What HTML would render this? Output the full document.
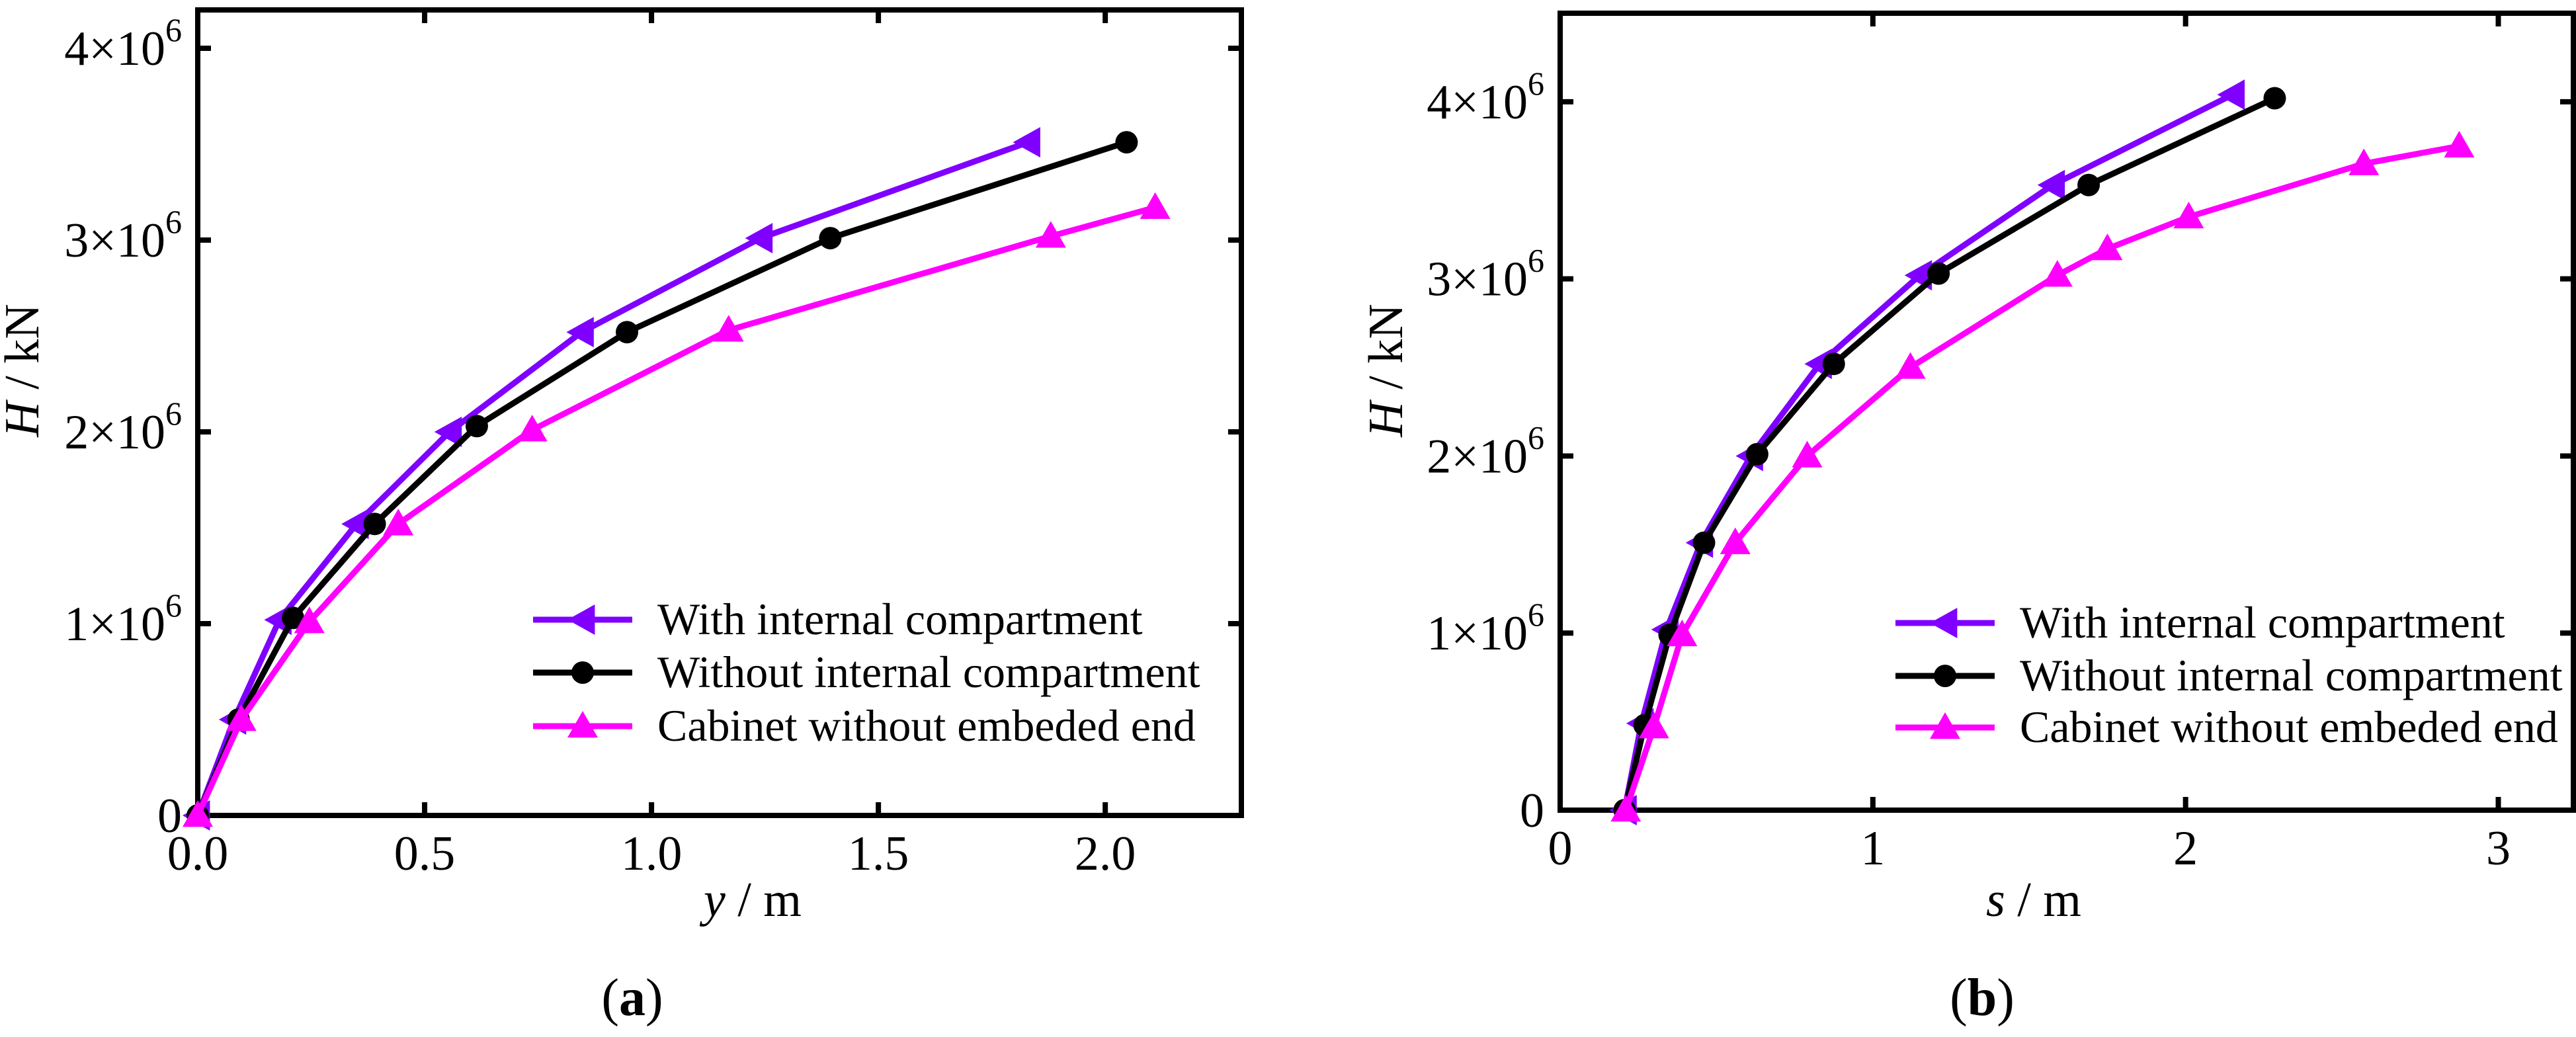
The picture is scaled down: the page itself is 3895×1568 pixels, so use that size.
<!DOCTYPE html>
<html><head><meta charset="utf-8"><style>
html,body{margin:0;padding:0;background:#fff}
svg{display:block}
svg text, svg tspan{font-family:"Liberation Serif","DejaVu Serif",serif}
</style></head><body>
<svg id="fig" width="3895" height="1568" viewBox="0 0 3895 1568" xmlns="http://www.w3.org/2000/svg" font-family="Liberation Serif, DejaVu Serif, serif"></svg>
<script>
// ---- data, panel (a) ----
const aWithX = [0, 0.08, 0.18, 0.35, 0.555, 0.846, 1.24, 1.83];
const aWithY = [0, 0.5, 1.02, 1.52, 2.0, 2.52, 3.01, 3.51];
const aWithoutX = [0, 0.09, 0.21, 0.39, 0.615, 0.946, 1.394, 2.047];
const aWithoutY = [0, 0.5, 1.03, 1.52, 2.03, 2.52, 3.01, 3.51];
const aCabX = [0, 0.096, 0.246, 0.442, 0.737, 1.17, 1.88, 2.11];
const aCabY = [0, 0.5, 1.01, 1.52, 2.01, 2.53, 3.02, 3.17];
const aXTicks = [0, 0.5, 1.0, 1.5, 2.0];
const aXTickLabels = ["0.0", "0.5", "1.0", "1.5", "2.0"];
const aYTicks = [0, 1, 2, 3, 4];
// ---- data, panel (b) ----
const bWithX = [0.206, 0.26, 0.34, 0.45, 0.61, 0.83, 1.15, 1.575, 2.15];
const bWithY = [0, 0.49, 1.02, 1.51, 2.0, 2.52, 3.02, 3.53, 4.04];
const bWithoutX = [0.206, 0.27, 0.35, 0.46, 0.63, 0.875, 1.21, 1.69, 2.285];
const bWithoutY = [0, 0.48, 0.99, 1.51, 2.01, 2.52, 3.03, 3.53, 4.02];
const bCabX = [0.21, 0.3, 0.39, 0.56, 0.79, 1.12, 1.59, 1.75, 2.01, 2.57, 2.875];
const bCabY = [0, 0.47, 0.99, 1.51, 2.0, 2.5, 3.02, 3.17, 3.35, 3.65, 3.75];
const bXTicks = [0, 1, 2, 3];
const bXTickLabels = ["0", "1", "2", "3"];
const bYTicks = [0, 1, 2, 3, 4];
const legendLabels = ["With internal compartment", "Without internal compartment", "Cabinet without embeded end"];

const NS = "http://www.w3.org/2000/svg";
const svg = document.getElementById('fig');
const FONT = '"Liberation Serif", "DejaVu Serif", serif';
function mk(tag, attrs, parent) {
  const e = document.createElementNS(NS, tag);
  for (const k in attrs) e.setAttribute(k, attrs[k]);
  if (tag === 'text') e.setAttribute('font-family', FONT);
  (parent || svg).appendChild(e);
  return e;
}
const PURPLE = "#7f00ff", MAG = "#ff00ff";

function marker(g, kind, cx, cy, color) {
  let m;
  const r = 23;
  if (kind === 'left') {
    m = mk('polygon', {points: `${cx - r},${cy} ${cx + r * 0.8},${cy - r} ${cx + r * 0.8},${cy + r}`, fill: color}, g);
  } else if (kind === 'circle') {
    m = mk('circle', {cx: cx, cy: cy, r: 17, fill: color}, g);
  } else {
    m = mk('polygon', {points: `${cx},${cy - r} ${cx + r},${cy + r * 0.75} ${cx - r},${cy + r * 0.75}`, fill: color}, g);
  }
  
  
}

function panel(cfg) {
  const {x0, x1, y0, y1, xmax, ymax, id} = cfg;
  const sx = v => x0 + v / xmax * (x1 - x0);
  const sy = v => y1 - v / ymax * (y1 - y0);
  const g = mk('g', {});
  
  
  cfg.xTicks.forEach((t, i) => {
    const x = sx(t);
    mk('line', {x1: x, y1: y1, x2: x, y2: y1 - 20, stroke: '#000', 'stroke-width': 8}, g);
    mk('line', {x1: x, y1: y0, x2: x, y2: y0 + 20, stroke: '#000', 'stroke-width': 8}, g);
    const tl = mk('text', {x: x, y: y1 + 82, 'font-size': 74, 'text-anchor': 'middle'}, g);
    tl.textContent = cfg.xTickLabels[i];
    
    
  });
  cfg.yTicks.forEach(t => {
    const y = sy(t);
    mk('line', {x1: x0, y1: y, x2: x0 + 20, y2: y, stroke: '#000', 'stroke-width': 8}, g);
    mk('line', {x1: x1, y1: y, x2: x1 - 20, y2: y, stroke: '#000', 'stroke-width': 8}, g);
    const tl = mk('text', {x: x0 - 24, y: y + 25, 'font-size': 74, 'text-anchor': 'end'}, g);
    
    
    if (t === 0) { tl.textContent = '0'; }
    else {
      const a = mk('tspan', {}, tl); a.textContent = t + '×10';
      const b = mk('tspan', {dy: -36, 'font-size': 50}, tl); b.textContent = '6';
    }
  });
  const fr = mk('rect', {x: x0, y: y0, width: x1 - x0, height: y1 - y0, fill: 'none', stroke: '#000', 'stroke-width': 8}, g);
  
  
  cfg.series.forEach(s => {
    const pts = s.xs.map((v, i) => sx(v) + ',' + sy(s.ys[i])).join(' ');
    const pl = mk('polyline', {points: pts, fill: 'none', stroke: s.color, 'stroke-width': 9, 'stroke-linejoin': 'round'}, g);
    
    
    s.xs.forEach((v, i) => marker(g, s.kind, sx(v), sy(s.ys[i]), s.color));
  });
  const lg = mk('g', {}, g);
  
  
  cfg.series.forEach((s, i) => {
    const y = cfg.legY[i];
    mk('line', {x1: cfg.legX, y1: y, x2: cfg.legX + 150, y2: y, stroke: s.color, 'stroke-width': 9}, lg);
    marker(lg, s.kind, cfg.legX + 75, y, s.color);
    const t = mk('text', {x: cfg.legX + 188, y: y + 22, 'font-size': 68}, lg);
    t.textContent = legendLabels[i];
    
    
  });
  const xt = mk('text', {x: (x0 + x1) / 2 + cfg.xtOff, y: 1385, 'font-size': 74, 'text-anchor': 'middle'}, g);
  
  
  const xi = mk('tspan', {'font-style': 'italic'}, xt); xi.textContent = cfg.xvar;
  const xr = mk('tspan', {}, xt); xr.textContent = ' / m';
  const yt = mk('text', {x: 0, y: 0, 'font-size': 74, 'text-anchor': 'middle', transform: `translate(${cfg.ytX},560) rotate(-90)`}, g);
  
  
  const yi = mk('tspan', {'font-style': 'italic'}, yt); yi.textContent = 'H';
  const yr = mk('tspan', {}, yt); yr.textContent = ' / kN';
  const cap = mk('text', {x: cfg.capX, y: 1535, 'font-size': 80, 'text-anchor': 'middle'}, g);
  
  
  const c1 = mk('tspan', {}, cap); c1.textContent = '(';
  const c2 = mk('tspan', {'font-weight': 'bold'}, cap); c2.textContent = id;
  const c3 = mk('tspan', {}, cap); c3.textContent = ')';
}

panel({id: 'a', x0: 299, x1: 1877, y0: 15, y1: 1233, xmax: 2.3, ymax: 4.2,
  xTicks: aXTicks, xTickLabels: aXTickLabels, yTicks: aYTicks,
  series: [
    {xs: aWithX, ys: aWithY, color: PURPLE, kind: 'left'},
    {xs: aWithoutX, ys: aWithoutY, color: '#000', kind: 'circle'},
    {xs: aCabX, ys: aCabY, color: MAG, kind: 'tri'}],
  legX: 806, legY: [937, 1017, 1098], xvar: 'y', xtOff: 50, ytX: 58, capX: 956});

panel({id: 'b', x0: 2359, x1: 3891, y0: 20, y1: 1225, xmax: 3.24, ymax: 4.5,
  xTicks: bXTicks, xTickLabels: bXTickLabels, yTicks: bYTicks,
  series: [
    {xs: bWithX, ys: bWithY, color: PURPLE, kind: 'left'},
    {xs: bWithoutX, ys: bWithoutY, color: '#000', kind: 'circle'},
    {xs: bCabX, ys: bCabY, color: MAG, kind: 'tri'}],
  legX: 2866, legY: [942, 1022, 1100], xvar: 's', xtOff: -50, ytX: 2120, capX: 2997});
</script>
</body></html>
